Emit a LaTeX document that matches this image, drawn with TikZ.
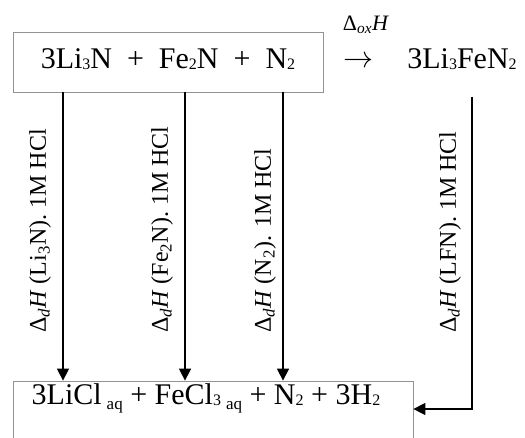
\documentclass[tikz,border=0pt]{standalone}
\usepackage{fontspec}
\usepackage{graphicx}
\setmainfont{Liberation Serif}
\usetikzlibrary{arrows.meta}
\tikzset{
  box/.style={draw=gray!85, line width=0.8pt, inner sep=0pt},
  big/.style={font=\fontsize{30}{36}\selectfont, inner sep=0pt},
  small/.style={font=\fontsize{24}{28}\selectfont, inner sep=0pt},
  lab/.style={small, rotate=90, anchor=west},
  arr/.style={line width=1.6pt, -{Triangle[length=12pt,width=12pt]}},
}
\newcommand{\subs}[1]{\textsubscript{#1}}
\newcommand{\dg}[1]{{\fontsize{16}{16}\selectfont\raisebox{-1pt}{#1}}}
\newcommand{\aqs}{{\fontsize{17}{17}\selectfont\raisebox{-5pt}{aq}}}
\begin{document}
\begin{tikzpicture}[x=1pt,y=-1pt]
\useasboundingbox (0,0) rectangle (525,438);
\clip (0,0) rectangle (525,438);
% boxes
\node[box, minimum width=310pt, minimum height=60pt] (topbox) at (168,62) {};
\node[box, minimum width=400pt, minimum height=60pt] (botbox) at (213,411) {};
% texts
\node[big] (react) at (168,59) {3Li\dg{3}N\ \ +\ \ Fe\dg{2}N\ \ +\ \ N\dg{2}};
\node[big] (prod) at (462,59) {3Li\dg{3}FeN\dg{2}};
\node[font=\fontsize{20}{24}\selectfont, inner sep=0pt] (yields) at (359,62) {\scalebox{1.45}{$\rightarrow$}};
\node[font=\fontsize{22}{26}\selectfont, inner sep=0pt] (dox) at (366,25) {Δ\subs{\textit{ox}}\textit{H}};
\node[big] (prodbot) at (206,398) {3LiCl\,\aqs\ + FeCl\dg{3}\,\aqs\ + N\dg{2} + 3H\dg{2}};
% labels
\node[lab] (l1) at (40,333) {Δ\subs{\textit{d}}\textit{H} (Li\subs{3}N). 1M HCl};
\node[lab] (l2) at (162,333) {Δ\subs{\textit{d}}\textit{H} (Fe\subs{2}N). 1M HCl};
\node[lab] (l3) at (265,333) {Δ\subs{\textit{d}}\textit{H} (N\subs{2}). 1M HCl};
\node[lab] (l4) at (450,333) {Δ\subs{\textit{d}}\textit{H} (LFN). 1M HCl};
% connectors
\coordinate (x1) at (63,0);
\coordinate (x2) at (185,0);
\coordinate (x3) at (283,0);
\coordinate (s4) at (472,97);
\coordinate (bend) at (0,409);
\draw[arr] (topbox.south -| x1) -- (botbox.north -| x1);
\draw[arr] (topbox.south -| x2) -- (botbox.north -| x2);
\draw[arr] (topbox.south -| x3) -- (botbox.north -| x3);
\draw[arr] (s4) |- (botbox.east |- bend);
\end{tikzpicture}
\end{document}
